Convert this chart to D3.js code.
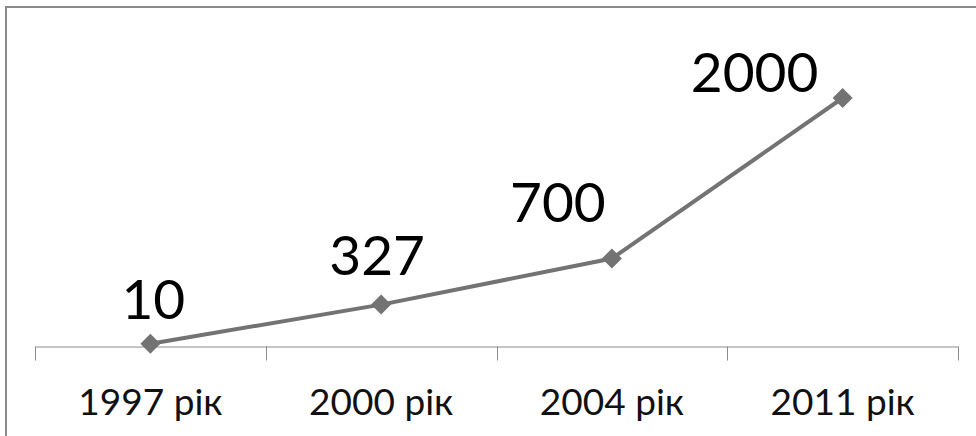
<!DOCTYPE html>
<html>
  <head>
    <meta charset="utf-8">
    <style>
      body {
        margin: 0;
        background: #fff;
        font-family: Lato, "Open Sans", sans-serif;
      }
      .frame {
        fill: none;
        stroke: #8a8a8a;
        stroke-width: 2px;
      }
      .series-line {
        fill: none;
        stroke: #737373;
        stroke-width: 4px;
      }
      .axis path, .axis line {
        stroke: #8c8c8c;
        stroke-width: 1px;
      }
    </style>
  </head>
  <body>
    <script src="https://cdnjs.cloudflare.com/ajax/libs/d3/7.8.5/d3.min.js"></script>
    <script>
      // data
      var categories = ["1997 рік", "2000 рік", "2004 рік", "2011 рік"];
      var values = [10, 327, 700, 2000];
      // where each value label sits relative to its point (dx, dy)
      var labelOffsets = [[3, -25], [-4, -30], [-54, -37], [-88, -6]];

      var width = 976, height = 436;

      var svg = d3.select("body").append("svg")
        .attr("width", width)
        .attr("height", height);

      // chart border (only top and left edges are visible in the picture)
      svg.append("rect")
        .attr("class", "frame")
        .attr("x", 6)
        .attr("y", 7)
        .attr("width", width + 20)
        .attr("height", height + 20);

      var xScale = d3.scaleBand()
        .domain(categories)
        .range([35, 958]);

      var yScale = d3.scaleLinear()
        .domain([0, 2000])
        .range([345, 98]);

      var axisY = 346.5;

      var xAxis = d3.axisBottom(xScale)
        .tickSize(0)
        .tickSizeOuter(0)
        .tickPadding(0);

      var axisG = svg.append("g")
        .attr("class", "axis")
        .attr("transform", "translate(0," + axisY + ")")
        .call(xAxis);

      axisG.selectAll(".tick text").remove();

      // tick marks sit between categories (at band edges)
      var edges = categories.map(function(c) { return xScale(c); }).concat([xScale.range()[1]]);
      axisG.selectAll(".edge")
        .data(edges)
        .enter().append("line")
        .attr("class", "edge")
        .attr("x1", function(d) { return Math.round(d) + 0.5; })
        .attr("x2", function(d) { return Math.round(d) + 0.5; })
        .attr("y1", 0)
        .attr("y2", 14);

      svg.selectAll(".cat-label")
        .data(categories)
        .enter().append("text")
        .attr("class", "cat-label")
        .attr("x", function(d) { return xScale(d) + xScale.bandwidth() / 2; })
        .attr("y", 415)
        .attr("text-anchor", "middle")
        .attr("font-size", "37px")
        .attr("fill", "#111")
        .text(function(d) { return d; });

      var pts = values.map(function(v, i) {
        return { cat: categories[i], value: v, off: labelOffsets[i] };
      });

      var line = d3.line()
        .x(function(d) { return xScale(d.cat) + xScale.bandwidth() / 2; })
        .y(function(d) { return yScale(d.value); });

      svg.append("path")
        .attr("class", "series-line")
        .datum(pts)
        .attr("d", line);

      var marker = d3.symbol().type(d3.symbolSquare).size(200);

      svg.selectAll(".marker")
        .data(pts)
        .enter().append("path")
        .attr("class", "marker")
        .attr("d", marker)
        .attr("fill", "#737373")
        .attr("transform", function(d) {
          return "translate(" + (xScale(d.cat) + xScale.bandwidth() / 2) + "," + yScale(d.value) + ") rotate(45)";
        });

      svg.selectAll(".value-label")
        .data(pts)
        .enter().append("text")
        .attr("class", "value-label")
        .attr("x", function(d) { return xScale(d.cat) + xScale.bandwidth() / 2 + d.off[0]; })
        .attr("y", function(d) { return yScale(d.value) + d.off[1]; })
        .attr("text-anchor", "middle")
        .attr("font-size", "55px")
        .attr("fill", "#000")
        .text(function(d) { return d.value; });
    </script>
  </body>
</html>
